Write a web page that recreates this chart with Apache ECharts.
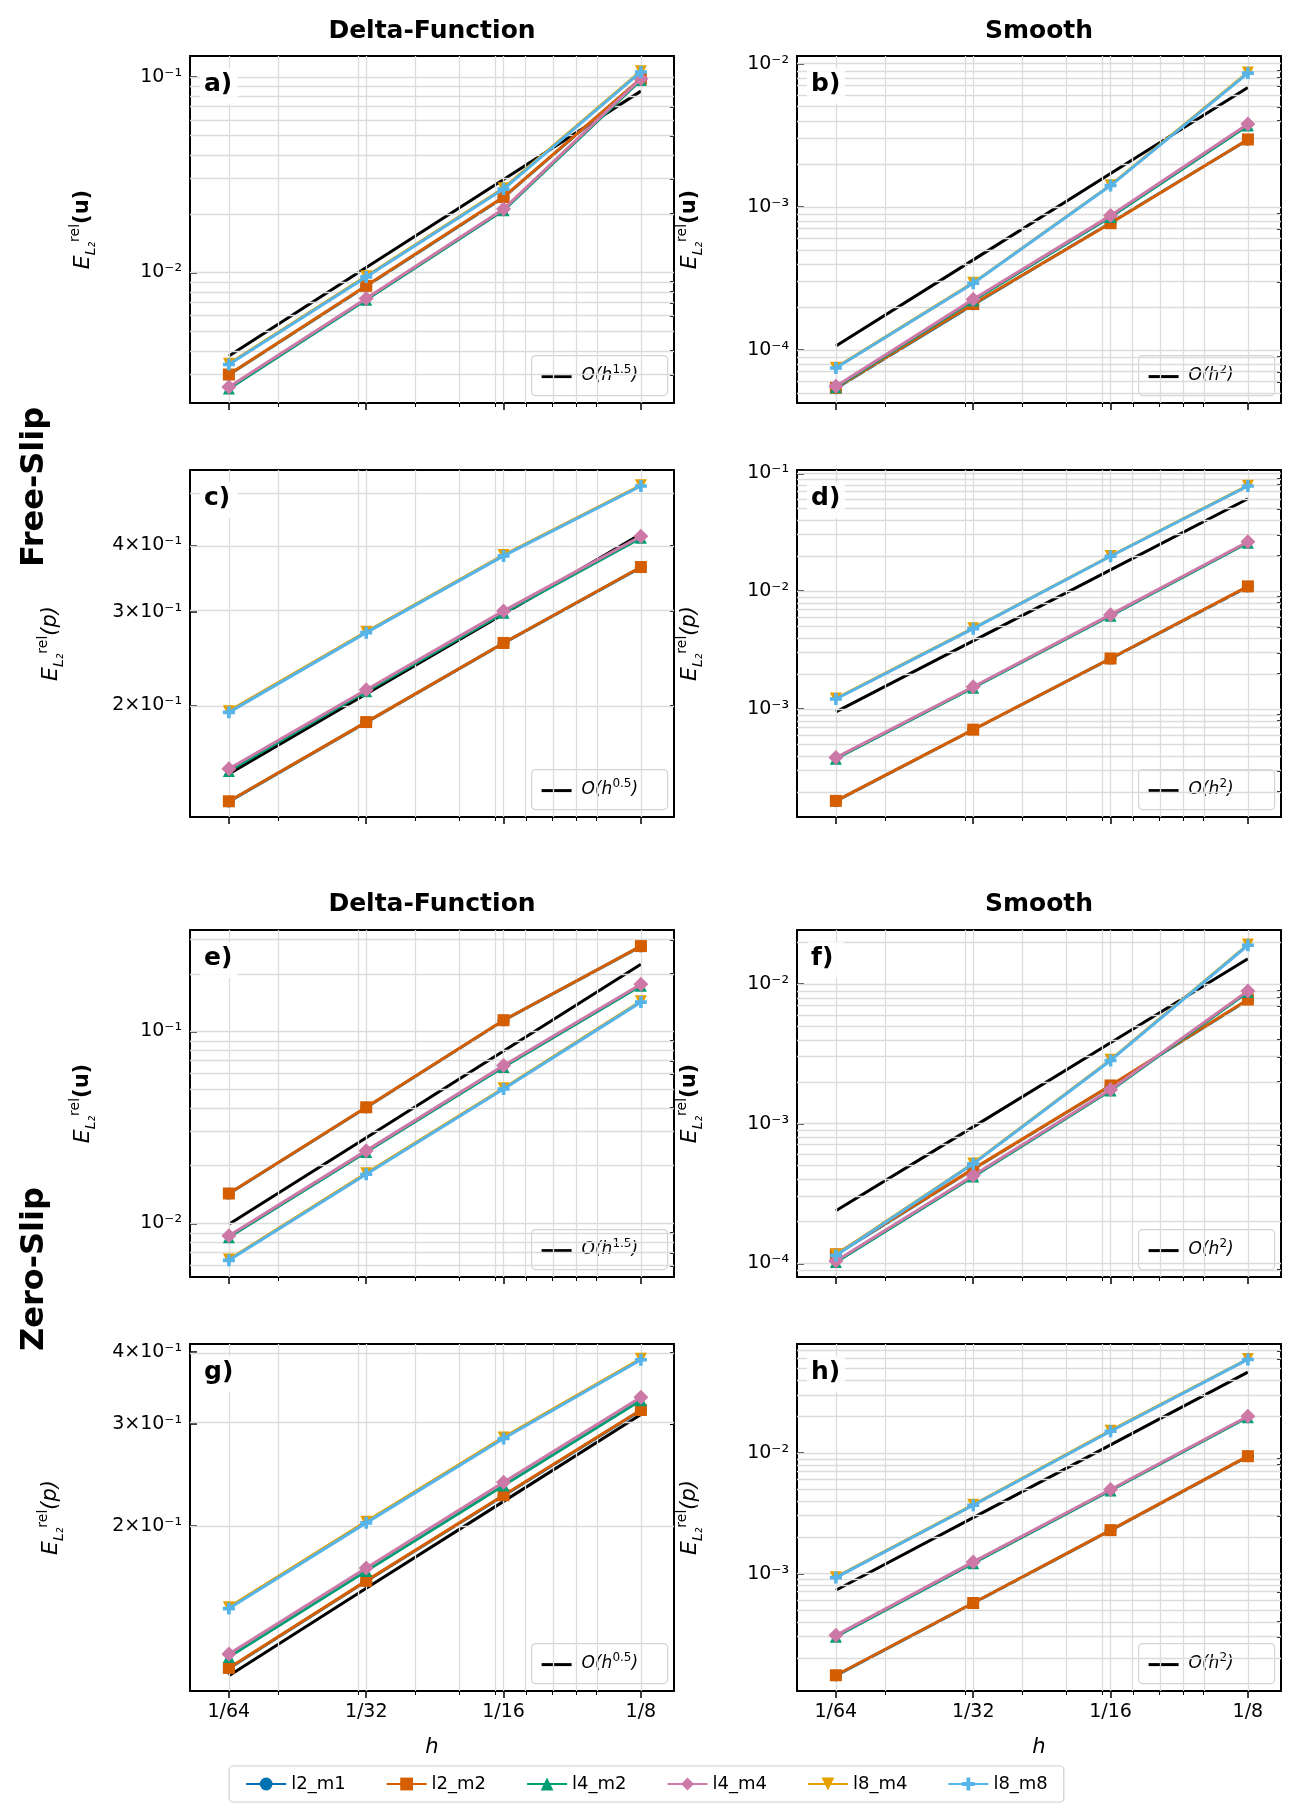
<!DOCTYPE html>
<html>
<head>
<meta charset="utf-8">
<script src="https://cdn.jsdelivr.net/npm/echarts@6/dist/echarts.min.js"></script>
<style>html,body{margin:0;padding:0;background:#fff}#chart{width:1293px;height:1819px}</style>
</head>
<body>
<div id="chart"></div>
<script>
// 网格尺寸 h
var hs = [1 / 64, 1 / 32, 1 / 16, 1 / 8];
var hLabels = ['1/64', '1/32', '1/16', '1/8'];
var names = ['l2_m1', 'l2_m2', 'l4_m2', 'l4_m4', 'l8_m4', 'l8_m8'];

// a) Free-Slip, Delta, u
var a_l2_m1 = [0.00300, 0.00850, 0.0242, 0.0975];
var a_l2_m2 = [0.00301, 0.00855, 0.0243, 0.0980];
var a_l4_m2 = [0.00255, 0.00725, 0.0208, 0.0965];
var a_l4_m4 = [0.00260, 0.00736, 0.0211, 0.0980];
var a_l8_m4 = [0.00342, 0.00958, 0.0270, 0.1070];
var a_l8_m8 = [0.00339, 0.00950, 0.0267, 0.1060];
var a_ref = [0.00374, 0.0106, 0.0299, 0.0846];
// b) Free-Slip, Smooth, u
var b_l2_m1 = [5.40e-5, 2.08e-4, 7.75e-4, 2.95e-3];
var b_l2_m2 = [5.45e-5, 2.10e-4, 7.70e-4, 2.96e-3];
var b_l4_m2 = [5.50e-5, 2.22e-4, 8.50e-4, 3.70e-3];
var b_l4_m4 = [5.60e-5, 2.27e-4, 8.70e-4, 3.80e-3];
var b_l8_m4 = [7.55e-5, 2.95e-4, 1.42e-3, 8.70e-3];
var b_l8_m8 = [7.50e-5, 2.93e-4, 1.41e-3, 8.60e-3];
var b_ref = [1.07e-4, 4.27e-4, 1.71e-3, 6.83e-3];
// c) Free-Slip, Delta, p
var c_l2_m1 = [0.1318, 0.1858, 0.2618, 0.3635];
var c_l2_m2 = [0.1320, 0.1860, 0.2620, 0.3640];
var c_l4_m2 = [0.1505, 0.2125, 0.2985, 0.4130];
var c_l4_m4 = [0.1520, 0.2140, 0.3010, 0.4160];
var c_l8_m4 = [0.1950, 0.2750, 0.3835, 0.5185];
var c_l8_m8 = [0.1940, 0.2740, 0.3820, 0.5170];
var c_ref = [0.1486, 0.2100, 0.2970, 0.4200];
// d) Free-Slip, Smooth, p
var d_l2_m1 = [1.66e-4, 6.70e-4, 2.68e-3, 1.09e-2];
var d_l2_m2 = [1.67e-4, 6.71e-4, 2.69e-3, 1.10e-2];
var d_l4_m2 = [3.80e-4, 1.52e-3, 6.20e-3, 2.58e-2];
var d_l4_m4 = [3.89e-4, 1.55e-3, 6.33e-3, 2.63e-2];
var d_l8_m4 = [1.23e-3, 4.86e-3, 1.99e-2, 7.85e-2];
var d_l8_m8 = [1.22e-3, 4.82e-3, 1.98e-2, 7.80e-2];
var d_ref = [9.50e-4, 3.80e-3, 1.52e-2, 6.08e-2];
// e) Zero-Slip, Delta, u
var e_l2_m1 = [0.01425, 0.0401, 0.1140, 0.2770];
var e_l2_m2 = [0.01429, 0.0402, 0.1143, 0.2780];
var e_l4_m2 = [0.00845, 0.0235, 0.0652, 0.1730];
var e_l4_m4 = [0.00860, 0.0239, 0.0664, 0.1760];
var e_l8_m4 = [0.00648, 0.0182, 0.0505, 0.1435];
var e_l8_m8 = [0.00641, 0.0180, 0.0501, 0.1420];
var e_ref = [0.00988, 0.0279, 0.0790, 0.2235];
// f) Zero-Slip, Smooth, u
var f_l2_m1 = [1.15e-4, 4.72e-4, 1.87e-3, 7.70e-3];
var f_l2_m2 = [1.16e-4, 4.75e-4, 1.88e-3, 7.76e-3];
var f_l4_m2 = [1.02e-4, 4.18e-4, 1.73e-3, 8.80e-3];
var f_l4_m4 = [1.04e-4, 4.26e-4, 1.76e-3, 8.95e-3];
var f_l8_m4 = [1.15e-4, 5.20e-4, 2.87e-3, 1.92e-2];
var f_l8_m8 = [1.14e-4, 5.16e-4, 2.84e-3, 1.90e-2];
var f_ref = [2.38e-4, 9.50e-4, 3.80e-3, 1.52e-2];
// g) Zero-Slip, Delta, p
var g_l2_m1 = [0.1132, 0.1603, 0.2256, 0.3170];
var g_l2_m2 = [0.1135, 0.1606, 0.2260, 0.3175];
var g_l4_m2 = [0.1185, 0.1670, 0.2350, 0.3300];
var g_l4_m4 = [0.1200, 0.1690, 0.2380, 0.3340];
var g_l8_m4 = [0.1446, 0.2034, 0.2846, 0.3895];
var g_l8_m8 = [0.1438, 0.2024, 0.2834, 0.3880];
var g_ref = [0.1100, 0.1559, 0.2205, 0.3118];
// h) Zero-Slip, Smooth, p
var h_l2_m1 = [1.43e-4, 5.70e-4, 2.28e-3, 9.35e-3];
var h_l2_m2 = [1.44e-4, 5.71e-4, 2.29e-3, 9.38e-3];
var h_l4_m2 = [3.00e-4, 1.22e-3, 4.88e-3, 1.97e-2];
var h_l4_m4 = [3.08e-4, 1.25e-3, 4.97e-3, 2.01e-2];
var h_l8_m4 = [9.35e-4, 3.71e-3, 1.525e-2, 5.98e-2];
var h_l8_m8 = [9.27e-4, 3.68e-3, 1.51e-2, 5.93e-2];
var h_ref = [7.28e-4, 2.91e-3, 1.165e-2, 4.66e-2];

// y 轴范围 (log10) 与刻度
var yRanges = [[-2.667, -0.893], [-4.369, -1.946], [-0.909, -0.2564], [-3.914, -0.972],
	[-2.28, -0.472], [-4.098, -1.612], [-0.985, -0.384], [-3.972, -1.099]];
var yTicks = [[0.01, 0.1], [1e-4, 1e-3, 1e-2], [0.2, 0.3, 0.4], [1e-3, 1e-2, 0.1],
	[0.01, 0.1], [1e-4, 1e-3, 1e-2], [0.2, 0.3, 0.4], [1e-3, 1e-2]];
var refOrders = ['1.5', '2', '0.5', '2', '1.5', '2', '0.5', '2'];
var panelLetters = ['a)', 'b)', 'c)', 'd)', 'e)', 'f)', 'g)', 'h)'];
var panelData = [
	[a_l2_m1, a_l2_m2, a_l4_m2, a_l4_m4, a_l8_m4, a_l8_m8, a_ref],
	[b_l2_m1, b_l2_m2, b_l4_m2, b_l4_m4, b_l8_m4, b_l8_m8, b_ref],
	[c_l2_m1, c_l2_m2, c_l4_m2, c_l4_m4, c_l8_m4, c_l8_m8, c_ref],
	[d_l2_m1, d_l2_m2, d_l4_m2, d_l4_m4, d_l8_m4, d_l8_m8, d_ref],
	[e_l2_m1, e_l2_m2, e_l4_m2, e_l4_m4, e_l8_m4, e_l8_m8, e_ref],
	[f_l2_m1, f_l2_m2, f_l4_m2, f_l4_m4, f_l8_m4, f_l8_m8, f_ref],
	[g_l2_m1, g_l2_m2, g_l4_m2, g_l4_m4, g_l8_m4, g_l8_m8, g_ref],
	[h_l2_m1, h_l2_m2, h_l4_m2, h_l4_m4, h_l8_m4, h_l8_m8, h_ref]
];

var colors = ['#0072B2', '#D55E00', '#009E73', '#CC79A7', '#E69F00', '#56B4E9'];
var symbols = ['circle', 'rect', 'triangle', 'diamond', 'path://M0,0L10,0L5,10Z',
	'path://M3.5,0H6.5V3.5H10V6.5H6.5V10H3.5V6.5H0V3.5H3.5Z'];
var font = 'DejaVu Sans';

var colLeft = [190, 797], gw = 484;
var rowTop = [56, 470, 930, 1344], gh = 347;
var xMin = -6.283, xMax = -2.759;

var supMap = { '-': '⁻', '0': '⁰', '1': '¹', '2': '²', '3': '³', '4': '⁴', '5': '⁵', '6': '⁶', '7': '⁷', '8': '⁸', '9': '⁹' };
function sup(n) {
	return String(n).split('').map(function(c) { return supMap[c]; }).join('');
}
function fmt(lv) {
	var v = Math.pow(10, lv);
	var e = Math.floor(lv + 1e-9);
	var m = Math.round(v / Math.pow(10, e));
	return (m === 1 ? '' : m + '×') + '10' + sup(e);
}
function log2(v) { return Math.log(v) / Math.LN2; }

// 次网格线
var xMinor = [0.02, 0.03, 0.04, 0.05, 0.06, 0.07, 0.08, 0.09, 0.1, 0.2];
function yMinorList(r) {
	var out = [];
	for (var e = Math.floor(r[0]) - 1; e <= Math.ceil(r[1]); e++) {
		for (var k = 1; k <= 9; k++) {
			var lv = Math.log10(k * Math.pow(10, e));
			if (lv > r[0] && lv < r[1]) out.push(lv);
		}
	}
	return out;
}

var grids = [], xAxes = [], yAxes = [], series = [], graphics = [];
for (var p = 0; p < 8; p++) {
	var col = p % 2, row = Math.floor(p / 2);
	var L = colLeft[col], T = rowTop[row];
	var bottomRow = row === 3;
	grids.push({ left: L, top: T, width: gw, height: gh });
	var r = yRanges[p];
	var ym = yMinorList(r);
	var isP = row % 2 === 1;
	// 主轴
	xAxes.push({
		gridIndex: p, type: 'value', min: xMin, max: xMax,
		axisLine: { onZero: false, lineStyle: { color: '#000', width: 2 } },
		axisTick: { customValues: hs.map(log2), length: 7, lineStyle: { color: '#000', width: 1.5 } },
		axisLabel: { show: bottomRow, customValues: hs.map(log2), color: '#000', fontFamily: font, fontSize: 19, margin: 12,
			formatter: function(v) { return hLabels[Math.round(v) + 6]; } },
		splitLine: { show: false },
		name: bottomRow ? 'h' : '', nameLocation: 'middle', nameGap: 46,
		nameTextStyle: { fontFamily: font, fontStyle: 'italic', fontSize: 21, color: '#000' }
	});
	// 次刻度 x
	xAxes.push({
		gridIndex: p, type: 'value', min: xMin, max: xMax, position: 'bottom',
		axisLine: { show: false },
		axisTick: { customValues: xMinor.map(log2), length: 4, lineStyle: { color: '#000' } },
		axisLabel: { show: false }, splitLine: { show: false }
	});
	// 顶部边框
	xAxes.push({
		gridIndex: p, type: 'value', min: xMin, max: xMax, position: 'top',
		axisLine: { onZero: false, lineStyle: { color: '#000', width: 2 } },
		axisTick: { show: false }, axisLabel: { show: false }, splitLine: { show: false }
	});
	var yt = yTicks[p].map(Math.log10);
	yAxes.push({
		gridIndex: p, type: 'value', min: r[0], max: r[1],
		axisLine: { onZero: false, lineStyle: { color: '#000', width: 2 } },
		axisTick: { customValues: yt, inside: true, length: 7, lineStyle: { color: '#000', width: 1.5 } },
		axisLabel: { customValues: yt, formatter: fmt, color: '#000', fontFamily: font, fontSize: 19, margin: 8 },
		splitLine: { show: false },
		name: '{e|E}{b|L₂}{s|rel}{n|' + (isP ? '(p)' : '(u)') + '}',
		nameLocation: 'middle', nameRotate: 90, nameGap: isP && col === 0 ? 124 : 92,
		nameTextStyle: {
			color: '#000', fontFamily: font, lineHeight: 30,
			rich: {
				e: { fontSize: 22, fontStyle: 'italic', fontFamily: font, lineHeight: 30 },
				b: { fontSize: 14, fontStyle: 'italic', verticalAlign: 'bottom', fontFamily: font, lineHeight: 30 },
				s: { fontSize: 14, verticalAlign: 'top', fontFamily: font, lineHeight: 30 },
				n: { fontSize: 21, fontFamily: font, lineHeight: 30, fontWeight: isP ? 'normal' : 'bold', fontStyle: isP ? 'italic' : 'normal' }
			}
		}
	});
	yAxes.push({
		gridIndex: p, type: 'value', min: r[0], max: r[1],
		axisLine: { show: false },
		axisTick: { customValues: ym, inside: true, length: 4, lineStyle: { color: '#000' } },
		axisLabel: { show: false }, splitLine: { show: false }
	});
	yAxes.push({
		gridIndex: p, type: 'value', min: r[0], max: r[1], position: 'right',
		axisLine: { onZero: false, lineStyle: { color: '#000', width: 2 } },
		axisTick: { show: false }, axisLabel: { show: false }, splitLine: { show: false }
	});
	var xi = p * 3, yi = p * 3;
	// 网格线
	var gl = [];
	xMinor.concat(hs).forEach(function(v) { gl.push({ xAxis: log2(v) }); });
	ym.forEach(function(v) { gl.push({ yAxis: v }); });
	series.push({
		type: 'line', xAxisIndex: xi, yAxisIndex: yi, data: [], silent: true, z: 1,
		markLine: { silent: true, symbol: 'none', label: { show: false }, animation: false,
			lineStyle: { color: '#dcdcdc', width: 1.3, type: 'solid' }, data: gl }
	});
	var d = panelData[p];
	series.push({
		name: 'ref', type: 'line', xAxisIndex: xi, yAxisIndex: yi, symbol: 'none', z: 3,
		lineStyle: { color: '#000', width: 3 },
		data: d[6].map(function(v, i) { return [log2(hs[i]), Math.log10(v)]; })
	});
	for (var s = 0; s < 6; s++) {
		series.push({
			name: names[s], type: 'line', xAxisIndex: xi, yAxisIndex: yi, z: 4 + s,
			symbol: symbols[s], symbolSize: s === 3 ? 15 : 12,
			color: colors[s], lineStyle: { width: 3, color: colors[s] },
			itemStyle: { color: colors[s] },
			data: d[s].map(function(v, i) { return [log2(hs[i]), Math.log10(v)]; })
		});
	}
	// 面板字母
	graphics.push({
		type: 'rect', left: L + 10, top: T + 12, shape: { width: 38, height: 36, r: 3 },
		style: { fill: 'rgba(255,255,255,0.85)' }, z: 50
	});
	graphics.push({
		type: 'text', left: L + 14, top: T + 16, z: 51,
		style: { text: panelLetters[p], fontFamily: font, fontWeight: 'bold', fontSize: 25, fill: '#000' }
	});
	// 参考线图例
	var bx = L + gw - 143, by = T + gh - 48;
	graphics.push({
		type: 'group', left: bx, top: by, z: 50,
		children: [
			{ type: 'rect', shape: { x: 0, y: 0, width: 136, height: 40, r: 4 },
				style: { fill: 'rgba(255,255,255,0.85)', stroke: '#d4d4d4', lineWidth: 1.2 } },
			{ type: 'line', shape: { x1: 10, y1: 21, x2: 40, y2: 21 }, style: { stroke: '#000', lineWidth: 3 } },
			{ type: 'text', x: 50, y: 8,
				style: { text: '{n|O(h}{s|' + refOrders[p] + '}{n|)}', fill: '#000',
					rich: { n: { fontSize: 17, fontStyle: 'italic', fontFamily: font, lineHeight: 24 },
						s: { fontSize: 12, verticalAlign: 'top', fontFamily: font, lineHeight: 24 } } } }
		]
	});
}

// 标题
var titles = [
	{ text: 'Delta-Function', x: colLeft[0] + gw / 2, y: 31 },
	{ text: 'Smooth', x: colLeft[1] + gw / 2, y: 31 },
	{ text: 'Delta-Function', x: colLeft[0] + gw / 2, y: 904 },
	{ text: 'Smooth', x: colLeft[1] + gw / 2, y: 904 }
];
titles.forEach(function(t) {
	graphics.push({ type: 'text', x: t.x, y: t.y, z: 60,
		style: { text: t.text, fontFamily: font, fontWeight: 'bold', fontSize: 25, fill: '#000', align: 'center', verticalAlign: 'middle' } });
});
[{ text: 'Free-Slip', y: 487 }, { text: 'Zero-Slip', y: 1269 }].forEach(function(t) {
	graphics.push({ type: 'text', x: 35, y: t.y, rotation: Math.PI / 2, z: 60,
		style: { text: t.text, fontFamily: font, fontWeight: 'bold', fontSize: 32, fill: '#000', align: 'center', verticalAlign: 'middle' } });
});

var chart = echarts.init(document.getElementById('chart'), null, { renderer: 'canvas' });
chart.setOption({
	animation: false,
	grid: grids,
	xAxis: xAxes,
	yAxis: yAxes,
	series: series,
	graphic: graphics,
	legend: {
		data: names, left: 'center', top: 1766,
		itemWidth: 40, itemHeight: 16, itemGap: 40,
		padding: [9, 16], borderColor: '#cfcfcf', borderWidth: 1.2, borderRadius: 4,
		textStyle: { fontFamily: font, fontSize: 18, color: '#000' }
	}
});
</script>
</body>
</html>
